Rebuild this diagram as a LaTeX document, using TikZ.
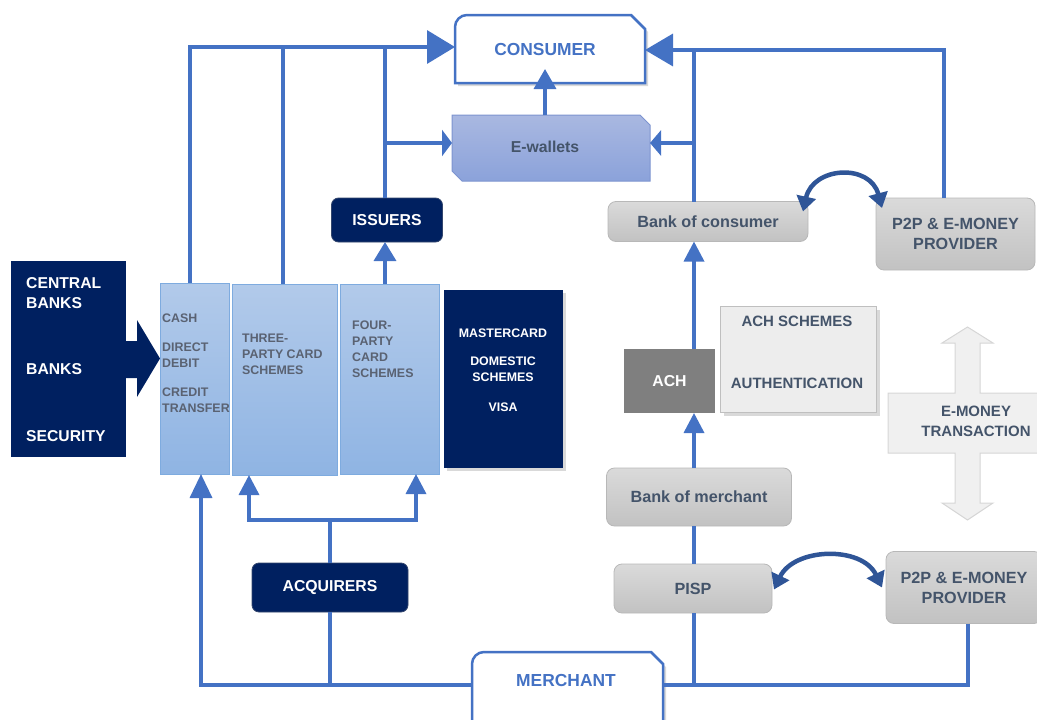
\documentclass[tikz,border=0pt]{standalone}
\usepackage{fontspec}
\setmainfont{Liberation Sans}
\usetikzlibrary{arrows.meta,shadows,calc}
\definecolor{lnblue}{HTML}{4472C4}
\definecolor{navy}{HTML}{002060}
\definecolor{txtgray}{HTML}{44546A}
\definecolor{boxtxt}{HTML}{5A6272}
\definecolor{lbtop}{HTML}{B2CAEA}
\definecolor{lbbot}{HTML}{8FB4E3}
\definecolor{lbdraw}{HTML}{7EABDF}
\definecolor{ewtop}{HTML}{A9B8E1}
\definecolor{ewbot}{HTML}{8BA2DA}
\definecolor{ewdraw}{HTML}{7D94D0}
\definecolor{gtop}{HTML}{DADADA}
\definecolor{gbot}{HTML}{C2C2C2}
\definecolor{gdraw}{HTML}{B8B8B8}
\definecolor{achgray}{HTML}{7F7F7F}
\definecolor{achsfill}{HTML}{EDEDED}
\definecolor{achsdraw}{HTML}{BFBFBF}
\definecolor{emfill}{HTML}{F0F0F0}
\definecolor{emdraw}{HTML}{D6D6D6}
\definecolor{curveblue}{HTML}{2F5597}
\begin{document}
\begin{tikzpicture}[x=1pt,y=-1pt,
  geom/.style={inner sep=0pt, outer sep=0pt},
  conn/.style={draw=lnblue, line width=3.5pt},
  shad/.style={drop shadow={opacity=0.3, shadow xshift=3pt, shadow yshift=-3pt}},
  fbig/.style={font=\fontsize{17.4}{20}\selectfont\bfseries},
  fmid/.style={font=\fontsize{15.8}{20}\selectfont\bfseries},
  fgray/.style={font=\fontsize{16.2}{20}\selectfont\bfseries},
  fach/.style={font=\fontsize{15}{20}\selectfont\bfseries},
  fsmall/.style={font=\fontsize{12.4}{16}\selectfont\bfseries},
  navybox/.style={geom, fill=navy, draw=navy!60!gray, line width=0.8pt, rounded corners=7pt, text=white, fmid},
  graybox/.style={geom, rounded corners=8pt, top color=gtop, bottom color=gbot, draw=gdraw, line width=0.8pt, text=txtgray, fgray, align=center},
  lbbox/.style={geom, top color=lbtop, bottom color=lbbot, draw=lbdraw, line width=1pt},
  curv/.style={draw=curveblue, line width=4.5pt, {Triangle[length=15pt,width=19pt]}-{Triangle[length=15pt,width=19pt]}}
]
\useasboundingbox (0,0) rectangle (1037,720);
\clip (0,0) rectangle (1037,720);

% ---------- consumer ----------
\node[geom, minimum width=190pt, minimum height=68pt] (cons) at (550,49) {};
\draw[draw=lnblue, line width=2.5pt, fill=white, shad] (cons.south west) -- ([yshift=-12pt]cons.north west) arc[start angle=180,end angle=90,radius=12pt] -- ([xshift=-14pt]cons.north east) -- ([yshift=-14pt]cons.north east) -- (cons.south east) -- cycle;
\node[text=lnblue, fbig] (consT) at (545,50) {CONSUMER};

% ---------- e-wallets ----------
\node[geom, minimum width=198pt, minimum height=66pt] (ewal) at (551,148) {};
\draw[draw=ewdraw, line width=1pt, top color=ewtop, bottom color=ewbot] (ewal.north west) -- ([xshift=-10pt]ewal.north east) -- ([yshift=-10pt]ewal.north east) -- (ewal.south east) -- ([xshift=10pt]ewal.south west) -- ([yshift=10pt]ewal.south west) -- cycle;
\node[text=txtgray, fmid] (ewalT) at (545,147) {E-wallets};

% ---------- navy nodes ----------
\node[navybox, minimum width=111pt, minimum height=44pt] (issuers) at (387,220) {ISSUERS};
\node[navybox, minimum width=156pt, minimum height=49pt] (acq) at (330,587.5) {ACQUIRERS};

% ---------- gray nodes ----------
\node[graybox, minimum width=200pt, minimum height=40pt] (bcons) at (708,221.5) {Bank of consumer};
\node[graybox, minimum width=159pt, minimum height=72pt] (p2p1) at (955.5,234) {P2P \& E-MONEY\\PROVIDER};
\node[graybox, minimum width=185pt, minimum height=58pt] (bmer) at (699,497) {Bank of merchant};
\node[graybox, minimum width=158pt, minimum height=49pt] (pisp) at (693,588.5) {PISP};
\node[graybox, minimum width=156pt, minimum height=72pt] (p2p2) at (964,587.5) {P2P \& E-MONEY\\PROVIDER};

% ---------- ACH ----------
\node[geom, fill=achgray, text=white, fmid, minimum width=91pt, minimum height=64pt] (ach) at (669.5,381) {ACH};
\node[geom, fill=achsfill, draw=achsdraw, line width=1pt, shad, minimum width=156pt, minimum height=106pt] (achs) at (798.5,359.5) {};
\node[text=txtgray, fach] (achs1) at (797,321.7) {ACH SCHEMES};
\node[text=txtgray, fach] (achs2) at (797,383) {AUTHENTICATION};

% ---------- e-money transaction ----------
\draw[fill=emfill, draw=emdraw, line width=1pt] (967.5,327) -- (993,343) -- (980,343) -- (980,393) -- (1045,393) -- (1045,453) -- (980,453) -- (980,503) -- (993,503) -- (967.5,520) -- (942,503) -- (955,503) -- (955,453) -- (888,453) -- (888,393) -- (955,393) -- (955,343) -- (942,343) -- cycle;
\node[text=txtgray, fach, align=center] (emT) at (976,421.7) {E-MONEY\\TRANSACTION};

% ---------- merchant ----------
\node[geom, minimum width=191pt, minimum height=90pt] (mer) at (567.5,697) {};
\draw[draw=lnblue, line width=2.5pt, fill=white, shad] (mer.south west) -- ([yshift=-12pt]mer.north west) arc[start angle=180,end angle=90,radius=12pt] -- ([xshift=-12pt]mer.north east) -- ([yshift=-12pt]mer.north east) -- (mer.south east) -- cycle;
\node[text=lnblue, fbig] (merT) at (566,681) {MERCHANT};

% ---------- left block ----------
\node[geom, fill=navy, minimum width=115pt, minimum height=196pt] (cb) at (68.3,359) {};
\fill[navy] (120,341) -- (137,341) -- (137,320) -- (160,358.5) -- (137,397) -- (137,378) -- (120,378) -- cycle;
\node[anchor=west, align=left, text=white, font=\fontsize{15.7}{20}\selectfont\bfseries, inner sep=0pt] (cb1) at (26,293) {CENTRAL\\BANKS};
\node[anchor=west, text=white, font=\fontsize{15.7}{20}\selectfont\bfseries, inner sep=0pt] (cb2) at (26,369) {BANKS};
\node[anchor=west, text=white, font=\fontsize{15.7}{20}\selectfont\bfseries, inner sep=0pt] (cb3) at (26,436) {SECURITY};

\node[lbbox, minimum width=69pt, minimum height=191pt] (cash) at (194.5,378.5) {};
\node[lbbox, minimum width=105pt, minimum height=191pt] (three) at (284.5,379.5) {};
\node[lbbox, minimum width=99pt, minimum height=190pt] (four) at (389.5,379) {};
\node[geom, fill=navy, shad, minimum width=118.5pt, minimum height=178pt] (mc) at (503.7,378.5) {};

\node[anchor=west, align=left, text=boxtxt, fsmall, inner sep=0pt] (cashT) at (162,363.5) {CASH\\[13pt]DIRECT\\DEBIT\\[13pt]CREDIT\\TRANSFER};
\node[anchor=west, align=left, text=boxtxt, fsmall, inner sep=0pt] (threeT) at (242,354.5) {THREE-\\PARTY CARD\\SCHEMES};
\node[anchor=west, align=left, text=boxtxt, fsmall, inner sep=0pt] (fourT) at (352,349) {FOUR-\\PARTY\\CARD\\SCHEMES};
\node[align=center, text=white, fsmall, inner sep=0pt] (mcT) at (503,370) {MASTERCARD\\[12pt]DOMESTIC\\SCHEMES\\[14pt]VISA};

% ---------- connectors ----------
\coordinate (tl) at (190,47);
\coordinate (t3) at (283,47);
\coordinate (t4) at (385,47);
\coordinate (ewb) at (385,143);
\draw[conn, -{Triangle[length=28pt,width=33pt]}] (cash.north -| tl) -- (tl) -- (tl -| cons.west);
\draw[conn] (t3 |- three.north) -- (t3);
\draw[conn] (t4 |- issuers.north) -- (t4);
\draw[conn, -{Triangle[length=10pt,width=26pt]}] (ewb) -- (ewb -| ewal.west);
\draw[conn, -{Triangle[length=19pt,width=22pt]}] (t4 |- four.north) -- (t4 |- issuers.south);
\draw[conn, -{Triangle[length=20pt,width=22pt]}] (ewal.north -| consT) -- ($(cons.south -| consT)+(0,-14)$);

\coordinate (tr) at (944,50);
\coordinate (vr) at (694,50);
\draw[conn, -{Triangle[length=28pt,width=32pt]}] (tr |- p2p1.north) -- (tr) -- (tr -| cons.east);
\draw[conn] (vr |- bcons.north) -- (vr);
\draw[conn, -{Triangle[length=11pt,width=25pt]}] (vr |- ewb) -- (ewb -| ewal.east);
\draw[conn, -{Triangle[length=20pt,width=20pt]}] (vr |- ach.north) -- (vr |- bcons.south);
\draw[conn, -{Triangle[length=20pt,width=20pt]}] (vr |- bmer.north) -- (vr |- ach.south);
\draw[conn] (vr |- bmer.south) -- (vr |- pisp.north);
\coordinate (br) at (968,685);
\draw[conn] (vr |- pisp.south) -- (vr |- br);
\draw[conn] (br |- p2p2.south) -- (br) -- (br -| mer.east);

\coordinate (bl) at (201,685);
\draw[conn, -{Triangle[length=24pt,width=22pt]}] (bl -| mer.west) -- (bl) -- (bl |- cash.south);
\draw[conn] (acq.south) -- (acq.south |- bl);
\coordinate (am) at (330,520);
\coordinate (al) at (249,520);
\coordinate (ar) at (416,520);
\draw[conn] (acq.north) -- (am);
\draw[conn, -{Triangle[length=20pt,width=20pt]}] (am) -- (al) -- (al |- three.south);
\draw[conn, -{Triangle[length=20pt,width=20pt]}] (am) -- (ar) -- (ar |- four.south);

% curved arrows
\draw[curv] ([shift={(-5pt,-10pt)}]bcons.north east) .. controls +(10,-45) and +(-12,-45) .. ([shift={(6pt,-10pt)}]p2p1.north west);
\draw[curv] ([shift={(2pt,-1pt)}]pisp.east) .. controls +(20,-42) and +(-20,-42) .. ([shift={(-4pt,0pt)}]p2p2.west);
\end{tikzpicture}
\end{document}
